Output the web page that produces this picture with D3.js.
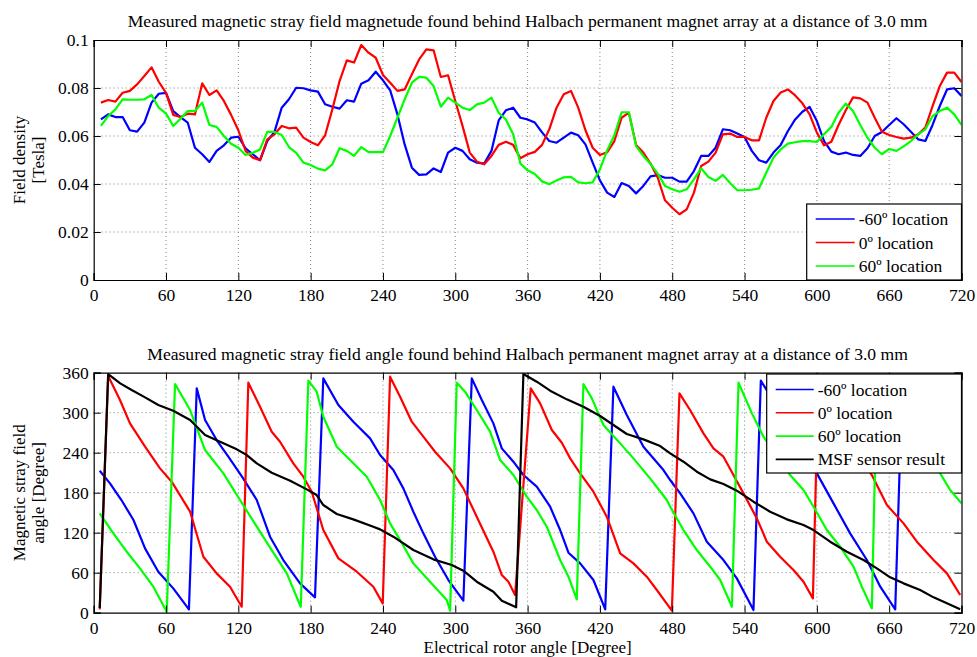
<!DOCTYPE html>
<html>
<head>
<meta charset="utf-8">
<script src="https://cdn.jsdelivr.net/npm/d3@7"></script>
<style>
  body { margin: 0; background: #fff; }
  svg text { font-family: "Liberation Serif", "DejaVu Serif", serif; }
</style>
</head>
<body>
<svg id="chart" width="977" height="657"></svg>
<script>
// sample angles of the field-density measurement (every 6 degrees)
var sampleAngles = d3.range(6, 721, 6);

var densityMinus60 = [0.0669,0.069,0.0679,0.0679,0.0624,0.0618,0.0656,0.0739,0.0776,0.078,
  0.0704,0.0679,0.0656,0.0551,0.0524,0.0492,0.0538,0.0561,0.0593,0.0597,
  0.0549,0.0524,0.0499,0.0579,0.0617,0.0718,0.0753,0.0801,0.0799,0.079,
  0.0785,0.0732,0.0722,0.0714,0.0749,0.0743,0.0818,0.0832,0.0868,0.0832,
  0.079,0.069,0.0565,0.0468,0.0438,0.044,0.0465,0.045,0.0531,0.0551,
  0.0538,0.0503,0.0489,0.0485,0.0538,0.0665,0.0707,0.0718,0.0676,0.0669,
  0.0656,0.0615,0.0579,0.0572,0.0593,0.0614,0.0603,0.0565,0.0489,0.0415,
  0.0364,0.0346,0.0404,0.0392,0.0361,0.0392,0.0432,0.0437,0.0426,0.0426,
  0.041,0.041,0.0454,0.0517,0.0517,0.0551,0.0628,0.0624,0.061,0.0596,
  0.0538,0.0499,0.0489,0.0531,0.0563,0.0621,0.0669,0.0701,0.0721,0.0662,
  0.0579,0.0535,0.0524,0.0531,0.0521,0.0517,0.0549,0.06,0.0617,0.0646,
  0.0674,0.0649,0.0618,0.0586,0.0579,0.0646,0.0725,0.0794,0.0799,0.0767];

var density0 = [0.0739,0.075,0.0743,0.078,0.0788,0.0815,0.085,0.0886,0.0826,0.078,
  0.0688,0.0679,0.0693,0.069,0.0819,0.0771,0.079,0.0746,0.0688,0.0624,
  0.0538,0.051,0.0499,0.0586,0.0607,0.0642,0.0632,0.0635,0.0593,0.0575,
  0.0561,0.0603,0.0711,0.0829,0.0915,0.0906,0.0979,0.0947,0.0926,0.0854,
  0.0822,0.0788,0.0794,0.0857,0.0919,0.0961,0.0957,0.0846,0.0853,0.0746,
  0.0642,0.0531,0.0493,0.0482,0.0517,0.0563,0.0576,0.0563,0.0507,0.0524,
  0.0534,0.0563,0.0628,0.0718,0.0774,0.0788,0.0718,0.0624,0.0551,0.0521,
  0.0532,0.0579,0.0676,0.0697,0.0563,0.0531,0.0485,0.0426,0.0332,0.0301,
  0.0274,0.0294,0.0364,0.0475,0.0493,0.0531,0.0607,0.061,0.0596,0.0596,
  0.0582,0.0582,0.0676,0.0746,0.0781,0.0794,0.0769,0.0736,0.069,0.0614,
  0.0561,0.0576,0.0646,0.0707,0.0761,0.0757,0.0739,0.0676,0.0618,0.0604,
  0.0596,0.0589,0.0593,0.0607,0.0635,0.0725,0.0808,0.0864,0.0864,0.0825];

var density60 = [0.0642,0.0683,0.0711,0.0753,0.0751,0.0751,0.0753,0.0771,0.0718,0.0693,
  0.0642,0.0672,0.0704,0.0704,0.0739,0.0646,0.0638,0.06,0.0568,0.0551,
  0.0521,0.053,0.0544,0.0617,0.0617,0.0604,0.0554,0.053,0.0489,0.0479,
  0.0464,0.0457,0.0482,0.0549,0.0538,0.0517,0.0554,0.0533,0.0533,0.0533,
  0.06,0.0676,0.0753,0.0822,0.0846,0.0843,0.0808,0.0722,0.076,0.0739,
  0.0718,0.0708,0.0732,0.0739,0.076,0.0697,0.0669,0.0607,0.0485,0.0457,
  0.0442,0.0411,0.0399,0.0415,0.0428,0.043,0.0407,0.0403,0.0407,0.0461,
  0.054,0.0603,0.0699,0.0699,0.0558,0.0517,0.0483,0.0443,0.0392,0.0378,
  0.0368,0.0378,0.0419,0.0465,0.0429,0.0413,0.0438,0.0404,0.0374,0.0374,
  0.0376,0.0382,0.0447,0.051,0.0544,0.0568,0.0574,0.0579,0.0579,0.0575,
  0.0607,0.0638,0.0697,0.0735,0.0704,0.0646,0.0593,0.0551,0.0524,0.0546,
  0.0538,0.0557,0.0579,0.0607,0.0628,0.0683,0.0704,0.0718,0.069,0.0646];

// stray field angle, [rotor angle, field angle] pairs
var angleMinus60 = [[5,213],[13.5,194],[23,169],[33,139],[42.6,96.5],[53.6,61.5],[66,36.5],[79,5],
  [85.5,336.5],[92.4,289],[102,259],[111.7,234],[124,201.5],[135.3,169],[146.3,114],[157.3,79],
  [171.2,44],[183.6,23],[190.5,351.5],[203,311.5],[215.4,286.5],[229.3,261.5],[237.6,236.5],
  [248.6,214],[256.9,186.5],[265.2,151.5],[273.5,119],[283.2,84],[294.3,49],[306.7,18],
  [313.7,351.5],[322,319],[331.6,284],[338.6,246.5],[348.2,226.5],[356.5,206.5],[367.6,189],
  [378.7,159],[387,124],[393.9,90],[403.6,74],[414.6,49],[424.4,5],[431.2,339],[442.3,296.5],
  [456.1,249],[472.7,214],[478.3,199],[486.6,179],[497.6,149],[508.7,106.5],[522.5,79],
  [533.6,51.5],[547.4,4],[553.5,348],[566,312],[585,255],[600,209],[613.8,164],[627.6,119],
  [641.5,79],[652.6,39],[665,5],[671,350],[695,285],[720,225]];

var angle0 = [[5,5],[12,355],[21.8,319],[30.1,284],[42.6,249],[55,216.5],[64.7,196.5],[80,151.5],
  [91,84],[102,59],[113.1,39],[122.8,9],[128.3,345],[138,309],[147.7,271.5],[154.6,256.5],
  [165.6,224],[173.9,204],[180.9,181.5],[190.5,124],[203,81.5],[218.3,61.5],[232,39],[239.8,14],
  [245.9,354],[254.2,324],[263.9,286.5],[273.5,264],[283.2,241.5],[295.7,216.5],[306.7,186.5],
  [317.8,144],[331.6,91.5],[338.6,56.5],[344.1,46.5],[349.6,26.5],[362.6,336.5],[370.4,314],
  [380.1,274],[388.4,255],[395.3,231.5],[403.6,209],[414.6,181.5],[425.7,144],[436.8,89],
  [447.8,74],[458.9,54],[467.2,34],[479.7,3],[486,329],[494.8,304],[505.9,269],[514.2,246.5],
  [522.5,234],[530.8,206.5],[539.1,179],[550.2,141.5],[558.5,106.5],[569.5,84],[580.6,64],
  [588.9,46.5],[596.7,21.5],[601,330],[620,275],[645.6,206.5],[658.1,161.5],[671.9,134],
  [683,106.5],[696.8,79],[707.9,59],[718.9,26.5]];

var angle60 = [[5,149],[16.3,119],[27.4,91.5],[38.4,66.5],[49.5,39],[60.6,1.5],[67.5,343],[80,304],
  [92.4,244],[107.6,209],[121.4,169],[135.3,129],[147.7,94],[160.2,59],[171.8,9],[178.1,348],
  [185,331.5],[190.5,294],[201.7,249],[212.7,229],[226.6,204],[237.6,169],[245.9,134],[254.2,109],
  [265.2,74],[277.7,49],[292.9,19],[295.7,3],[301.2,345],[308.1,331.5],[317.8,304],[328.9,271.5],
  [337.2,229],[348.2,206.5],[359.3,174],[367.6,154],[375.9,129],[387,79],[393.9,54],[400.8,20],
  [406.3,343],[413.3,321.5],[422.9,281.5],[436.8,254],[447.8,231.5],[461.6,201.5],[475.5,169],
  [478.3,159],[489.3,124],[500.4,94],[511.5,69],[519.8,49],[529.5,9],[535,345],[546.1,299],
  [555.7,264],[577.8,206.5],[588.9,184],[597.2,159],[608.3,124],[619.3,99],[630.4,69],[637.3,39],
  [645.6,6.5],[649.8,345],[660,320],[680,270],[702.3,209],[710.6,184],[720,164]];

var angleMSF = [[5,7],[12,358],[22,344],[31.5,334],[42.6,323],[53.6,311.5],[66,303],[80,289],
  [92.4,266.5],[107.6,254],[118.7,245],[127,236.5],[135.3,224],[147.7,210],[163,198],[176.8,185],
  [185,176.5],[190.5,161.5],[201.7,148],[215.4,140],[232,129],[237.6,125],[248.6,114],[265.2,94],
  [281.8,80],[297.1,71.5],[306.7,63],[317.8,46.5],[331.6,31.5],[338.6,18],[350.5,8],[356.5,358],
  [367.6,346.5],[378.7,333],[392.5,320],[406.3,309],[420.2,295],[431.2,281.5],[442.3,268],
  [456.1,260],[470,250],[478.3,239],[489.3,226.5],[500.4,211.5],[511.5,200],[522.5,193],
  [533.6,183],[547.4,166.5],[561.2,151.5],[575.1,140],[588.9,131.5],[597.2,124],[611,106.5],
  [624.9,91.5],[638.7,79],[649.8,66.5],[660.8,53],[671.9,44],[685.7,34],[696.8,23],[707.9,14],
  [718.9,5]];

var xTicks = d3.range(0, 721, 60);
var densityTicks = [0, 0.02, 0.04, 0.06, 0.08, 0.1];
var angleTicks = [0, 60, 120, 180, 240, 300, 360];
var locationNames = ["-60º location", "0º location", "60º location"];
var colors = ["#0000ff", "#ff0000", "#00ff00", "#000000"];

var svg = d3.select("#chart");
var serif = '"Liberation Serif", "DejaVu Serif", serif';

function drawPanel(opts) {
    var x = d3.scaleLinear().domain([0, 720]).range([opts.left, opts.right]);
    var y = d3.scaleLinear().domain(opts.domain).range([opts.bottom, opts.top]);
    var g = svg.append("g");

    // dotted grid
    g.append("g").selectAll("line").data(xTicks.slice(1, -1)).enter().append("line")
        .attr("x1", function (d) { return x(d); }).attr("x2", function (d) { return x(d); })
        .attr("y1", opts.top).attr("y2", opts.bottom)
        .attr("stroke", "#777").attr("stroke-width", 0.9).attr("stroke-dasharray", "1,3");
    g.append("g").selectAll("line").data(opts.yTicks.slice(1, -1)).enter().append("line")
        .attr("y1", function (d) { return y(d); }).attr("y2", function (d) { return y(d); })
        .attr("x1", opts.left).attr("x2", opts.right)
        .attr("stroke", "#777").attr("stroke-width", 0.9).attr("stroke-dasharray", "1,3");

    var clipId = "clip" + opts.id;
    svg.append("clipPath").attr("id", clipId).append("rect")
        .attr("x", opts.left).attr("y", opts.top - 2)
        .attr("width", opts.right - opts.left).attr("height", opts.bottom - opts.top + 3);

    var line = d3.line()
        .x(function (d) { return x(d[0]); })
        .y(function (d) { return y(d[1]); });

    g.append("g").attr("clip-path", "url(#" + clipId + ")")
        .selectAll("path").data(opts.series).enter().append("path")
        .attr("d", function (d) { return line(d.values); })
        .attr("fill", "none")
        .attr("stroke", function (d) { return d.color; })
        .attr("stroke-width", 2.2)
        .attr("stroke-linejoin", "round");

    // axes: ticks pointing inside on all four sides
    g.append("g").attr("transform", "translate(0," + opts.bottom + ")")
        .call(d3.axisBottom(x).tickValues(xTicks).tickSize(-7).tickPadding(9).tickFormat(d3.format("d")));
    g.append("g").attr("transform", "translate(0," + opts.top + ")")
        .call(d3.axisTop(x).tickValues(xTicks).tickSize(-7).tickFormat(""));
    g.append("g").attr("transform", "translate(" + opts.left + ",0)")
        .call(d3.axisLeft(y).tickValues(opts.yTicks).tickSize(-7).tickPadding(5).tickFormat(opts.format));
    g.append("g").attr("transform", "translate(" + opts.right + ",0)")
        .call(d3.axisRight(y).tickValues(opts.yTicks).tickSize(-7).tickFormat(""));
    g.selectAll(".domain").attr("stroke", "#000").attr("stroke-width", 1.2);
    g.selectAll(".tick line").attr("stroke", "#000");
    g.selectAll(".tick text")
        .style("font-family", serif).style("font-size", "17.5px").attr("fill", "#000");

    // title
    svg.append("text").attr("x", (opts.left + opts.right) / 2).attr("y", opts.top - 13)
        .attr("text-anchor", "middle").style("font-size", "17.6px").text(opts.title);

    // y label, two lines
    opts.yLabel.forEach(function (t, i) {
        svg.append("text")
            .attr("transform", "translate(" + (25 + i * 19) + "," + ((opts.top + opts.bottom) / 2) + ") rotate(-90)")
            .attr("text-anchor", "middle").style("font-size", "17px").text(t);
    });

    // legend
    var lg = svg.append("g");
    lg.append("rect").attr("x", opts.legend.x).attr("y", opts.legend.y)
        .attr("width", opts.right - opts.legend.x).attr("height", opts.legend.h)
        .attr("fill", "#fff").attr("stroke", "#000").attr("stroke-width", 1.2);
    opts.series.forEach(function (s, i) {
        var yy = opts.legend.y + opts.legend.first + i * opts.legend.step;
        lg.append("line").attr("x1", opts.legend.x + 9).attr("x2", opts.legend.x + opts.legend.lineLen)
            .attr("y1", yy).attr("y2", yy).attr("stroke", s.color).attr("stroke-width", 1.6);
        lg.append("text").attr("x", opts.legend.x + opts.legend.lineLen + 4).attr("y", yy + 6)
            .style("font-size", "17.5px").text(s.name);
    });
}

drawPanel({
    id: "top", left: 93.7, right: 961.5, top: 40, bottom: 280,
    domain: [0, 0.1], yTicks: densityTicks,
    format: function (d) { return d === 0 ? "0" : String(+d.toFixed(2)); },
    title: "Measured magnetic stray field magnetude found behind Halbach permanent magnet array at a distance of 3.0 mm",
    yLabel: ["Field density", "[Tesla]"],
    series: [
        { name: locationNames[0], color: colors[0], values: sampleAngles.map(function (a, i) { return [a, densityMinus60[i]]; }) },
        { name: locationNames[1], color: colors[1], values: sampleAngles.map(function (a, i) { return [a, density0[i]]; }) },
        { name: locationNames[2], color: colors[2], values: sampleAngles.map(function (a, i) { return [a, density60[i]]; }) }
    ],
    legend: { x: 806.7, y: 204, h: 76, first: 15, step: 23.5, lineLen: 48 }
});

drawPanel({
    id: "bottom", left: 93.7, right: 961.5, top: 372.7, bottom: 612.7,
    domain: [0, 360], yTicks: angleTicks,
    format: d3.format("d"),
    title: "Measured magnetic stray field angle found behind Halbach permanent magnet array at a distance of 3.0 mm",
    yLabel: ["Magnetic stray field", "angle [Degree]"],
    series: [
        { name: locationNames[0], color: colors[0], values: angleMinus60 },
        { name: locationNames[1], color: colors[1], values: angle0 },
        { name: locationNames[2], color: colors[2], values: angle60 },
        { name: "MSF sensor result", color: colors[3], values: angleMSF }
    ],
    legend: { x: 766.7, y: 374, h: 99, first: 15.5, step: 23.3, lineLen: 47 }
});

svg.append("text").attr("x", 527.6).attr("y", 653)
    .attr("text-anchor", "middle").style("font-size", "17px").text("Electrical rotor angle [Degree]");
</script>
</body>
</html>
